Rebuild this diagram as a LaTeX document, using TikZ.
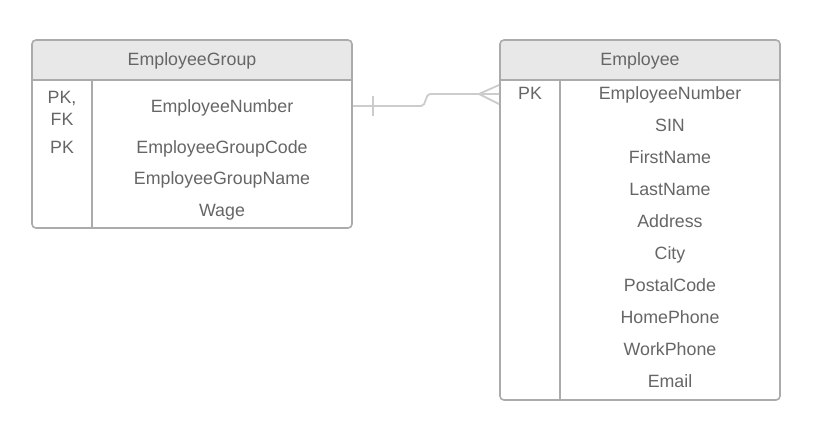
\documentclass[tikz,border=0pt]{standalone}
\usepackage{fontspec}
\setmainfont{Liberation Sans}
\begin{document}
\begin{tikzpicture}[x=1pt,y=-1pt,
  tbl/.style={draw=black!33, line width=1.6pt, rounded corners=4pt},
  hdr/.style={fill=black!9},
  sep/.style={draw=black!33, line width=1.6pt},
  txt/.style={text=black!60, font=\fontsize{17.8}{22.5}\selectfont, inner sep=0pt, anchor=base},
  rel/.style={draw=black!20, line width=1.8pt}]
\useasboundingbox[fill=white] (0,0) rectangle (820,440);
% EmployeeGroup table
\fill[hdr, rounded corners=4pt] (32,40) rectangle (352,80);
\fill[hdr] (32,60) rectangle (352,80);
\draw[tbl] (32,40) rectangle (352,228);
\draw[sep] (32,80) -- (352,80);
\draw[sep] (92,80) -- (92,228);
\node[txt] (gh) at (192,65) {EmployeeGroup};
\node[txt] (g1k) at (62,103) {PK,};
\node[txt] (g1f) at (62,125.5) {FK};
\node[txt] (g1) at (222,112) {EmployeeNumber};
\node[txt] (g2k) at (62,153.5) {PK};
\node[txt] (g2) at (222,153.5) {EmployeeGroupCode};
\node[txt] (g3) at (222,184.5) {EmployeeGroupName};
\node[txt] (g4) at (222,216) {Wage};
% Employee table
\fill[hdr, rounded corners=4pt] (500,40) rectangle (780,80);
\fill[hdr] (500,60) rectangle (780,80);
\draw[tbl] (500,40) rectangle (780,400);
\draw[sep] (500,80) -- (780,80);
\draw[sep] (560,80) -- (560,400);
\node[txt] (eh) at (640,65) {Employee};
\node[txt] (e1k) at (530,99) {PK};
\node[txt] (e1) at (670,99) {EmployeeNumber};
\node[txt] (e2) at (670,131) {SIN};
\node[txt] (e3) at (670,163) {FirstName};
\node[txt] (e4) at (670,195) {LastName};
\node[txt] (e5) at (670,227) {Address};
\node[txt] (e6) at (670,259) {City};
\node[txt] (e7) at (670,291) {PostalCode};
\node[txt] (e8) at (670,323) {HomePhone};
\node[txt] (e9) at (670,355) {WorkPhone};
\node[txt] (e10) at (670,387) {Email};
% relation
\coordinate (ra) at (353,106);
\coordinate (rb) at (499,94);
\draw[rel] (ra) -- (421,106) .. controls (427,106) and (424,94) .. (431,94) -- (rb);
\draw[rel] (373,96) -- (373,116);
\draw[rel] (499,85) -- (479,94) -- (499,104);
\end{tikzpicture}
\end{document}
